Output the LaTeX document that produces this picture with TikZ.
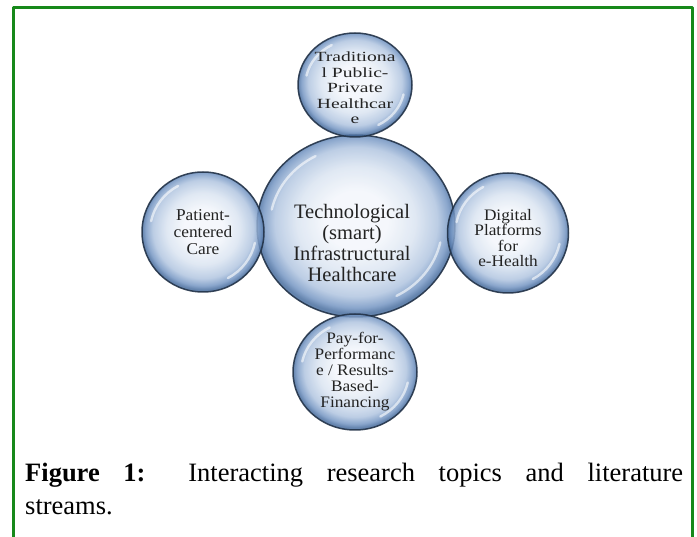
\documentclass[tikz,border=0pt]{standalone}
\usepackage{fontspec}
\setmainfont{Liberation Serif}
\usetikzlibrary{calc, positioning, shapes.geometric}
\definecolor{frgreen}{HTML}{17891A}
\definecolor{bubA}{HTML}{F3F6FB}
\definecolor{bubB}{HTML}{DAE4F1}
\definecolor{bubC}{HTML}{B1C5E0}
\definecolor{bubD}{HTML}{7596C3}
\definecolor{bubE}{HTML}{496E9F}
\definecolor{bubline}{HTML}{223247}
\definecolor{bubtext}{HTML}{232323}
\pgfdeclareradialshading{bubble}{\pgfpoint{0bp}{2bp}}{%
  color(0bp)=(bubA); color(8bp)=(bubA); color(15bp)=(bubB);
  color(20.5bp)=(bubC); color(23.5bp)=(bubD); color(25bp)=(bubE); color(50bp)=(bubE)}
\newcommand{\bubblesize}[3]{\fontsize{#1}{#2}\selectfont\addfontfeatures{FakeStretch=#3}}
\tikzset{
  every picture/.style={line cap=round, line join=round},
  frame/.style={frgreen, line width=3pt, line cap=rect},
  % glassy sphere, sized by hand; two white glints inside the rim
  bubble/.style={ellipse, draw=bubline, line width=1.5pt, shading=bubble,
    fill opacity=.85, draw opacity=.9, inner sep=0pt,
    path picture={
      \draw[white, line width=2.4pt, draw opacity=.6]
        let \p1=(path picture bounding box.north east),
            \p2=(path picture bounding box.center),
            \n1={0.87*(\x1-\x2)}, \n2={0.87*(\y1-\y2)} in
        ($(\p2)+(168:\n1 and \n2)$)
          arc[start angle=168, end angle=118, x radius=\n1, y radius=\n2]
        ($(\p2)+(-12:\n1 and \n2)$)
          arc[start angle=-12, end angle=-62, x radius=\n1, y radius=\n2];
    }},
  bubbletxt/.style={align=center, text=bubtext, inner sep=0pt},
  caption/.style={anchor=base west, text width=658pt, align=justify, inner sep=0pt,
    font=\fontsize{26.5}{33}\selectfont},
}

\begin{document}
\begin{tikzpicture}[x=1pt, y=-1pt]
  \useasboundingbox (0,0) rectangle (697,537);
  % ---- frame (open at the bottom)
  \draw[frame] (13.5,537) -- (13.5,7.5) -- (692.5,7.5) -- (692.5,537);
  % ---- bubbles
  \node[bubble, minimum width=198pt, minimum height=182pt] (tech) at (356,226) {};
  \node[bubble, minimum width=114pt, minimum height=104pt] (trad) at (355,85) {};
  \node[bubble, minimum width=124pt, minimum height=116pt] (pay) at (355,372) {};
  \node[bubble, minimum width=122pt, minimum height=120pt] (patient) at (203,232) {};
  \node[bubble, minimum width=121pt, minimum height=120pt] (digital) at (508,233) {};
  % ---- bubble texts
  \node[bubbletxt, font={\bubblesize{20.5}{20.7}{1.0}}] (tech-txt)
    at ([xshift=-4pt, yshift=-17pt]tech.center)
    {Technological\\(smart)\\Infrastructural\\Healthcare};
  \node[bubbletxt, font={\bubblesize{14}{15.5}{1.4}}] (trad-txt)
    at ([yshift=-3pt]trad.center)
    {Traditiona\\l Public-\\Private\\Healthcar\\e};
  \node[bubbletxt, font={\bubblesize{16}{16}{1.08}}] (pay-txt)
    at (pay.center)
    {Pay-for-\\Performanc\\e / Results-\\Based-\\Financing};
  \node[bubbletxt, font={\bubblesize{16.5}{17}{1.05}}] (patient-txt)
    at (patient.center)
    {Patient-\\centered\\Care};
  \node[bubbletxt, font={\bubblesize{16}{15.5}{1.08}}] (digital-txt)
    at ([yshift=-5pt]digital.center)
    {Digital\\Platforms\\for\\e-Health};
  % ---- caption
  \node[caption] (cap) at (25,482)
    {\textbf{Figure 1:} Interacting research topics and literature\linebreak streams.};
\end{tikzpicture}
\end{document}
